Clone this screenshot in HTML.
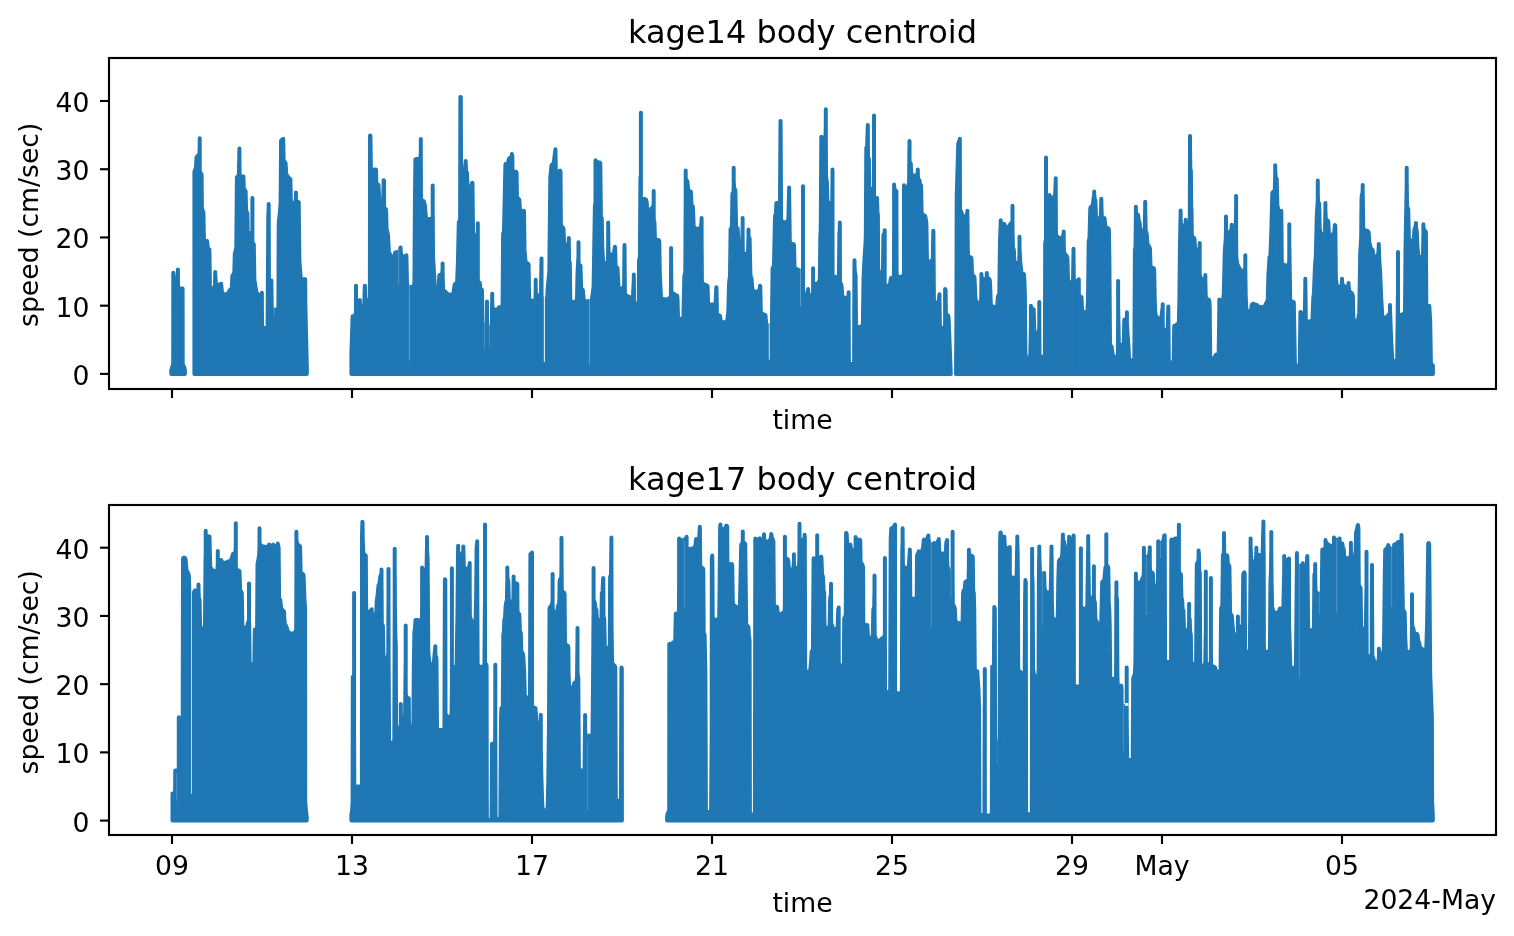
<!DOCTYPE html><html><head><meta charset="utf-8"><title>kage speed</title>
<style>html,body{margin:0;padding:0;background:#fff}svg{display:block;will-change:transform}text{font-family:"DejaVu Sans","Liberation Sans",sans-serif;fill:#000}</style></head><body>
<svg width="1514" height="936" viewBox="0 0 1514 936">
<rect width="1514" height="936" fill="#fff"/>
<g clip-path="none"><path d="M173.3,272.8V373.9 M177.9,269.5V373.9 M171.3,373.9 171.3,370.0 173.2,364.1 173.3,276.4 173.6,278.3 174.2,279.2 174.8,279.5 175.4,279.6 176.1,279.5 176.7,279.2 177.3,278.3 177.8,273.0 178.1,286.5 178.2,287.2 178.7,288.0 179.4,288.4 182.6,288.5 182.7,364.0 182.9,364.9 184.2,367.0 184.9,370.1 184.9,373.9Z M199.7,138.2V373.9 M215.2,271.9V373.9 M252.4,197.9V373.9 M261.9,292.7V373.9 M268.7,204.1V373.9 M295.9,192.6V373.9 M194.4,373.9 194.4,172.0 195.7,168.5 195.9,167.3 196.6,156.9 198.7,155.1 199.2,154.3 199.4,152.7 199.7,146.8 199.8,171.0 200.1,171.9 201.6,174.7 201.9,208.1 203.4,212.7 203.9,238.3 204.2,239.8 204.7,240.6 205.6,241.0 207.1,241.1 207.8,247.9 208.3,248.7 209.4,249.4 209.9,284.4 210.2,287.2 210.9,288.2 212.1,288.5 213.1,288.5 213.7,288.3 214.3,287.8 214.7,287.2 214.9,284.7 215.3,274.9 215.7,282.0 215.9,283.7 216.7,284.7 217.8,285.0 218.4,284.9 221.1,283.8 221.9,291.8 222.2,293.0 222.8,293.8 223.4,294.2 224.1,294.3 226.3,294.3 227.3,294.0 228.1,293.2 229.7,290.2 231.1,289.2 231.6,288.4 231.8,286.7 232.4,275.7 233.9,273.7 234.3,272.4 234.8,254.1 236.3,247.5 236.9,177.4 238.6,175.5 238.9,173.9 239.4,148.6 239.6,174.4 239.8,175.3 240.7,176.2 241.4,176.4 243.4,176.4 243.8,188.4 244.1,189.3 245.6,191.3 246.1,210.3 246.3,211.2 247.3,212.9 247.4,214.5 247.7,231.0 248.1,232.2 248.6,232.7 249.2,233.0 251.1,233.0 251.7,232.7 252.2,232.2 252.3,241.5 252.6,242.5 253.8,244.3 254.4,280.1 256.4,292.0 258.3,294.8 259.1,295.3 259.8,295.4 260.6,295.3 261.2,294.9 261.7,294.1 262.1,326.0 262.3,327.0 263.2,327.8 263.9,328.0 265.8,328.0 266.4,327.8 267.1,327.4 267.4,326.7 267.6,326.0 268.3,215.5 268.7,208.0 268.9,278.4 269.2,279.4 269.7,280.0 270.4,280.3 271.4,280.4 271.7,307.5 271.8,308.2 272.3,309.0 272.9,309.4 273.7,309.5 276.6,309.5 277.2,309.4 278.1,308.7 278.4,307.5 278.7,225.7 278.8,222.9 280.4,206.6 280.6,202.6 281.1,140.6 283.2,138.8 283.6,159.5 283.8,160.5 285.6,163.4 286.2,174.0 288.8,178.0 290.4,179.1 290.8,197.9 291.1,201.7 291.6,202.4 292.3,202.9 293.8,203.0 294.6,202.8 295.2,202.3 295.7,201.4 295.9,199.4 296.2,200.5 296.7,201.3 297.3,201.7 298.7,202.1 299.4,261.2 300.6,277.0 300.9,278.2 301.8,279.1 302.6,279.2 305.2,279.3 305.3,302.5 306.8,365.9 306.8,373.9Z M356.0,285.7V373.9 M420.8,138.9V373.9 M432.7,185.6V373.9 M442.6,263.5V373.9 M465.7,160.9V373.9 M477.8,223.3V373.9 M487.0,301.4V373.9 M492.2,293.8V373.9 M511.9,154.0V373.9 M535.7,279.7V373.9 M541.5,258.4V373.9 M568.8,238.1V373.9 M578.5,242.3V373.9 M595.5,160.2V373.9 M608.2,222.6V373.9 M633.8,274.6V373.9 M640.9,112.8V373.9 M653.7,190.9V373.9 M671.1,248.0V373.9 M685.7,170.6V373.9 M701.6,218.0V373.9 M733.7,167.8V373.9 M742.6,218.0V373.9 M748.5,229.6V373.9 M803.0,186.3V373.9 M808.1,289.0V373.9 M813.1,268.2V373.9 M825.8,109.3V373.9 M832.5,169.5V373.9 M839.8,222.6V373.9 M848.6,292.2V373.9 M854.5,260.3V373.9 M867.8,125.1V373.9 M874.0,115.6V373.9 M884.7,230.2V373.9 M894.1,184.5V373.9 M904.0,185.2V373.9 M909.5,141.0V373.9 M917.8,169.4V373.9 M939.5,294.3V373.9 M945.1,289.0V373.9 M351.4,373.9 351.4,352.2 352.6,316.2 353.9,316.2 354.8,315.7 355.4,314.6 355.9,313.0 356.0,312.3 356.1,300.1 356.9,300.8 357.9,301.1 358.9,300.8 359.8,300.1 360.1,305.1 360.4,306.1 360.9,306.6 361.6,307.0 362.5,307.1 363.3,306.7 363.9,306.1 364.3,303.7 364.8,285.7 365.0,285.7 365.3,296.3 365.5,298.8 365.9,299.4 366.5,299.9 367.1,300.0 368.3,300.0 368.9,299.8 369.4,299.4 369.8,298.8 369.9,298.1 370.0,135.6 370.3,135.5 370.4,135.6 370.9,168.5 371.3,169.7 372.3,170.4 373.0,170.5 373.6,170.4 374.8,169.4 375.9,169.5 376.1,170.1 376.3,182.5 376.4,183.2 376.8,183.8 378.5,184.9 379.3,198.8 380.0,199.7 381.1,200.1 382.3,199.7 383.0,198.8 383.3,194.5 383.6,180.3 383.9,180.3 384.0,180.5 384.1,206.8 384.4,207.8 384.8,208.3 386.0,209.3 386.1,210.0 386.6,229.0 387.9,234.4 389.0,252.5 391.3,256.6 392.4,257.1 393.5,256.9 394.3,256.4 394.6,255.7 395.1,252.5 398.1,252.0 399.9,250.7 400.1,250.2 400.5,247.4 400.9,254.0 401.0,254.7 401.4,255.3 402.3,256.0 404.3,256.6 405.3,256.3 406.3,255.3 406.4,255.3 407.0,284.3 407.1,285.0 407.6,285.7 410.1,287.2 410.9,287.3 411.6,287.1 413.8,285.6 414.1,285.0 414.3,284.3 414.4,282.0 414.9,204.4 415.4,159.4 416.3,159.0 419.1,158.9 419.8,158.6 420.3,158.0 420.6,156.1 420.8,150.8 421.0,198.7 421.1,199.4 421.8,200.2 423.8,201.2 423.9,201.4 424.9,205.6 425.9,217.1 426.3,218.3 426.9,218.9 427.6,219.1 430.6,219.1 431.5,218.9 432.1,218.3 432.5,217.7 432.8,214.5 433.0,253.9 433.1,258.2 434.1,274.2 434.8,289.2 435.5,290.2 436.6,290.5 437.8,290.2 438.5,289.2 439.3,275.5 439.4,275.1 441.4,274.3 442.0,273.6 442.4,271.6 442.5,268.6 442.6,269.2 442.9,284.0 443.1,289.5 443.6,290.3 448.5,294.8 449.1,294.9 449.8,294.9 452.4,294.1 453.0,293.7 453.5,293.0 454.6,284.6 454.8,284.3 456.6,283.2 457.0,282.6 457.1,281.9 457.9,263.2 458.8,222.3 459.9,220.4 460.1,219.5 460.4,97.1 460.8,97.1 461.0,168.5 461.4,169.6 462.4,170.4 463.0,170.5 463.6,170.4 464.6,169.6 465.0,168.5 465.6,161.9 466.1,171.0 466.4,171.9 467.0,172.8 467.4,183.3 467.6,186.4 468.1,187.2 468.9,187.6 469.8,187.7 470.6,187.4 471.4,186.4 472.0,183.3 472.1,183.0 472.5,182.9 473.0,232.2 473.3,234.0 473.6,234.7 474.3,235.1 475.0,235.3 476.3,235.3 477.0,235.0 477.5,234.5 477.9,280.7 478.0,281.4 478.4,282.0 479.8,283.0 480.4,288.4 480.9,289.2 482.0,289.9 482.5,322.6 482.8,323.5 483.5,324.3 484.3,324.5 485.5,324.5 486.3,324.2 486.8,323.7 487.1,325.6 487.4,326.0 488.0,326.6 488.8,326.9 490.0,326.9 490.6,326.7 491.3,326.2 491.6,325.6 491.9,319.9 492.1,302.0 492.3,301.5 492.4,305.7 492.6,308.2 493.1,309.0 493.8,309.4 494.4,309.5 496.6,309.5 497.5,309.3 498.4,308.6 498.9,307.2 500.8,307.2 501.5,307.0 502.3,306.2 502.5,305.2 502.6,302.9 503.1,233.6 503.8,232.0 504.0,230.9 505.4,164.5 505.6,164.1 507.0,163.9 507.8,163.3 508.1,162.4 509.0,158.6 511.1,157.2 512.1,155.1 512.3,155.3 512.5,169.8 512.6,170.5 513.0,171.1 513.5,171.5 514.3,171.7 516.1,171.8 516.6,172.6 516.9,196.3 517.0,197.0 517.4,197.7 519.3,199.6 519.9,209.0 520.1,210.0 520.6,210.6 521.5,211.0 522.9,211.1 523.8,210.8 524.0,211.0 524.5,249.4 525.4,260.4 525.6,261.8 526.3,262.7 528.1,263.7 528.6,264.8 529.1,298.0 529.3,298.7 529.6,299.4 530.1,299.8 532.9,301.1 533.5,301.2 534.1,301.0 534.8,300.6 535.1,300.2 535.4,299.2 535.8,288.3 535.9,293.4 536.0,294.1 536.4,294.8 537.4,295.4 539.1,295.4 540.1,295.0 540.8,294.1 541.0,292.3 541.4,263.2 541.6,296.9 541.8,297.6 542.1,298.2 542.8,298.7 543.4,298.9 545.8,298.8 546.5,298.4 547.0,297.6 547.3,296.3 547.5,290.7 549.3,271.0 550.3,177.7 551.5,165.2 553.3,163.6 553.8,162.9 555.4,149.2 555.8,169.7 555.9,170.4 556.5,171.3 557.4,171.7 558.5,171.6 560.0,170.6 560.5,171.4 560.9,225.3 561.3,226.4 561.9,227.0 562.9,227.4 563.5,228.9 564.0,241.6 564.3,243.3 564.6,243.9 565.3,244.4 565.9,244.6 566.9,244.6 568.0,244.0 568.4,243.5 568.8,242.6 569.1,261.1 569.3,261.8 569.8,262.7 570.3,298.3 570.5,301.0 571.1,301.9 571.9,302.3 572.8,302.3 575.9,301.0 576.8,300.2 577.0,299.2 577.5,273.3 578.4,257.5 578.8,264.1 579.3,264.9 580.4,265.6 580.5,266.3 581.1,287.2 581.5,288.7 581.9,289.2 582.8,289.8 582.9,290.1 583.6,298.6 583.9,299.9 584.5,300.8 585.4,301.2 589.8,301.2 590.4,301.1 591.0,300.8 591.8,299.7 593.6,287.0 594.9,205.7 596.0,201.0 596.5,161.2 597.9,162.4 599.8,162.5 600.3,163.2 600.9,216.1 601.0,216.8 601.6,217.7 601.8,219.4 602.3,248.3 603.0,259.5 603.1,261.1 603.4,262.0 603.9,262.6 604.5,263.0 606.4,263.0 607.0,262.8 607.5,262.4 607.9,261.8 608.0,261.1 608.3,230.7 608.4,246.3 608.6,252.6 609.3,253.4 611.3,254.8 612.4,254.9 613.4,254.4 613.9,253.6 614.0,253.0 614.9,246.8 615.1,247.5 615.6,265.7 616.0,266.9 617.4,267.9 617.5,268.2 618.5,287.2 619.1,288.1 620.0,288.5 621.6,288.5 622.5,288.1 623.9,286.4 624.1,285.4 624.5,245.1 624.9,293.5 625.0,294.2 625.8,295.1 627.8,296.4 630.3,297.6 631.0,297.7 631.6,297.5 632.3,297.2 632.8,296.6 633.0,295.6 633.9,278.0 634.1,301.5 634.3,302.2 635.0,303.2 636.1,303.5 637.0,303.5 637.6,303.3 638.3,302.8 638.6,302.2 638.8,301.5 639.0,260.7 639.9,256.6 640.4,179.5 640.6,176.2 640.9,197.5 641.0,198.2 641.5,198.9 642.4,199.4 643.3,199.4 644.6,198.9 645.8,199.3 646.5,201.2 646.6,201.9 647.1,208.2 647.5,209.0 648.1,209.6 649.3,209.8 650.3,209.5 652.1,208.1 653.5,205.5 653.6,205.9 653.8,219.5 654.4,221.9 654.9,237.6 655.1,238.6 655.6,239.4 656.5,239.9 658.3,240.0 658.9,240.4 659.3,241.6 659.8,274.0 661.0,297.2 661.4,298.1 662.1,298.7 665.8,299.6 669.0,298.6 669.5,298.2 670.8,296.5 670.9,295.8 671.1,258.1 671.4,291.2 671.6,292.1 672.1,292.7 673.9,294.0 677.1,295.7 677.5,298.8 678.0,316.7 678.1,317.4 678.5,318.0 679.1,318.5 679.9,318.8 681.6,318.8 682.4,318.5 683.1,317.8 683.4,316.8 684.3,277.9 684.4,275.2 685.0,273.6 685.1,272.9 685.3,270.3 685.8,177.8 686.0,179.7 686.4,180.3 687.3,181.1 687.4,181.4 688.1,188.9 688.4,190.1 689.1,191.1 689.8,191.3 690.6,191.4 690.9,191.9 691.5,204.5 691.8,205.5 692.8,206.5 692.9,207.3 693.6,224.2 693.9,227.1 694.3,227.7 694.9,228.2 697.3,228.8 698.1,228.8 700.1,228.0 700.6,227.4 700.9,226.7 701.5,221.0 701.9,281.9 702.0,282.6 702.8,283.6 707.3,285.8 707.5,286.1 707.6,286.5 708.1,302.7 708.5,303.8 709.5,304.6 710.3,304.7 714.3,304.2 715.1,303.7 715.6,302.9 716.3,287.3 716.5,287.6 716.9,313.1 717.1,314.1 717.6,314.7 720.0,315.8 720.6,320.6 721.3,321.7 722.4,322.2 725.6,322.2 726.4,321.9 727.0,321.2 727.4,319.7 728.3,311.5 729.1,283.1 730.0,275.6 730.6,229.1 731.6,227.5 731.9,226.5 732.4,194.6 732.5,193.6 733.3,192.7 733.5,191.8 733.8,182.6 734.1,187.9 735.3,189.8 735.4,191.6 736.1,226.5 736.5,227.6 737.6,228.6 738.4,239.3 739.1,240.3 740.3,240.6 741.4,240.3 742.1,239.3 742.4,236.8 742.5,224.3 742.8,251.8 743.0,252.8 743.8,253.6 744.5,253.8 746.1,253.8 746.9,253.6 747.5,253.1 748.0,252.2 748.1,251.5 748.5,235.5 748.8,236.6 749.6,238.3 750.4,275.0 751.5,278.7 752.4,289.5 753.0,290.4 754.8,291.6 755.4,291.9 756.4,291.9 758.5,291.1 759.1,290.6 759.5,290.0 760.0,285.7 760.3,286.5 760.8,311.2 761.0,312.7 761.4,313.3 761.9,313.7 765.4,315.1 765.5,315.4 766.0,322.4 766.3,324.2 766.5,324.7 767.1,325.2 767.9,325.5 770.0,325.5 770.9,325.2 771.6,324.5 771.9,323.5 772.6,268.4 773.9,265.3 774.0,264.6 775.0,216.2 775.6,214.7 775.9,213.3 776.4,203.0 778.3,202.9 779.0,202.7 779.8,201.9 780.0,201.0 780.5,120.9 780.6,120.9 781.1,219.5 781.3,220.2 781.8,220.9 783.6,222.3 784.5,222.6 785.3,222.5 785.9,222.3 787.6,221.0 788.1,220.2 788.4,218.0 789.1,187.6 789.8,241.5 790.0,242.4 790.5,243.0 792.1,244.0 793.6,244.3 794.0,245.1 794.5,266.1 794.8,267.6 795.0,268.1 795.8,268.7 797.5,269.3 798.8,270.5 799.4,270.9 800.6,271.1 801.6,270.6 802.6,269.0 802.9,268.1 803.0,261.0 803.1,293.2 803.3,293.9 803.6,294.5 804.3,295.0 805.0,295.2 806.1,294.9 806.9,294.2 807.9,290.4 808.5,294.1 809.0,294.8 809.9,295.3 811.0,295.4 811.9,295.2 812.5,294.8 812.9,294.1 813.0,293.4 813.3,282.6 813.8,283.3 814.6,283.8 816.5,283.9 817.3,283.7 817.8,283.3 818.3,282.7 819.5,280.6 819.8,279.6 820.3,237.9 820.6,232.3 820.8,222.6 821.3,136.8 821.5,136.8 822.5,137.9 823.5,138.1 824.6,137.8 825.4,136.8 825.6,132.4 825.8,124.6 826.0,175.9 826.9,182.4 827.4,201.0 827.5,201.7 827.9,202.3 828.5,202.8 829.1,202.9 831.0,202.8 831.6,202.4 832.1,201.7 832.3,201.0 832.4,185.9 832.6,274.9 832.8,275.6 833.3,276.4 833.9,276.8 834.6,276.9 837.0,276.9 837.8,276.7 838.6,275.9 838.9,274.9 839.4,233.3 839.8,228.6 840.0,281.9 840.3,282.8 841.4,284.7 842.3,295.0 842.6,296.7 843.1,297.3 843.9,297.7 846.6,297.7 847.8,297.4 848.5,296.4 848.9,361.9 849.3,363.0 850.1,363.7 852.1,363.9 853.0,363.7 853.9,362.8 854.1,361.9 854.4,270.9 854.5,264.6 854.9,272.8 855.0,273.5 855.6,275.1 856.0,324.9 856.4,326.0 857.3,326.7 857.9,326.9 860.8,326.8 861.5,326.6 862.1,326.0 862.9,323.7 863.5,280.0 864.4,260.6 865.6,241.8 865.8,235.8 866.3,148.0 866.9,146.5 867.1,145.2 867.8,126.8 868.0,157.1 868.3,158.0 868.9,158.9 869.1,187.1 869.3,187.8 869.6,188.4 870.1,188.8 870.9,189.1 872.0,189.1 872.6,188.9 873.3,188.4 873.6,187.8 873.8,187.1 873.9,169.6 874.0,196.3 874.3,197.3 875.0,198.1 876.0,198.3 877.0,198.1 877.5,212.8 877.9,214.7 878.1,266.4 878.4,271.0 878.8,271.6 879.4,272.1 880.0,272.3 881.3,272.3 881.9,272.1 882.5,271.6 882.9,271.0 883.0,270.3 883.4,234.9 884.4,233.2 884.6,284.2 884.8,284.9 885.5,285.8 886.1,286.1 886.8,286.2 887.6,285.9 889.5,284.6 890.1,283.6 890.9,278.1 892.1,278.1 892.8,277.9 893.4,277.4 893.8,276.8 893.9,276.1 894.3,187.0 894.6,189.3 894.9,189.9 895.5,190.6 896.4,191.0 896.6,271.1 896.8,274.9 897.0,275.9 897.9,276.7 898.6,276.9 900.8,276.9 901.5,276.8 902.0,276.5 903.4,275.3 903.9,274.6 904.0,273.9 904.1,265.3 904.4,186.6 904.9,187.4 905.8,187.8 906.6,187.9 907.5,187.5 908.1,186.6 909.1,182.7 909.4,149.0 909.6,161.7 909.9,162.7 910.8,163.7 911.1,171.5 911.4,173.9 911.9,174.7 912.6,175.1 915.4,175.7 916.4,175.5 917.0,175.0 917.4,174.4 917.8,170.9 917.9,176.6 918.1,178.6 918.5,179.3 919.4,180.0 920.1,184.3 921.1,185.6 921.6,212.5 922.0,213.7 923.4,215.1 925.0,215.9 925.6,217.8 926.4,223.5 926.9,256.5 927.1,260.6 927.5,261.2 928.0,261.6 928.6,261.8 929.4,261.8 930.0,261.6 931.9,260.4 932.6,259.5 932.8,258.8 933.3,230.8 933.4,231.2 933.9,299.3 934.0,300.0 934.9,302.1 935.4,302.9 936.0,303.3 936.6,303.4 937.4,303.4 938.0,303.0 938.5,302.4 938.8,301.5 939.4,294.9 939.9,325.8 940.0,326.5 940.5,327.3 941.1,327.7 941.8,327.8 943.3,327.8 943.9,327.6 944.5,327.1 944.9,326.5 945.0,325.8 945.5,290.0 945.6,290.3 945.9,313.0 946.0,313.7 946.5,314.5 947.0,314.9 948.0,315.3 948.6,317.8 950.8,373.9Z M959.8,138.7V373.9 M967.4,210.8V373.9 M981.4,273.9V373.9 M986.8,273.0V373.9 M1000.7,220.3V373.9 M1012.5,205.7V373.9 M1019.5,236.8V373.9 M1030.9,305.8V373.9 M1039.3,301.9V373.9 M1046.0,157.4V373.9 M1055.7,178.3V373.9 M1063.7,231.4V373.9 M1073.5,248.8V373.9 M1078.8,279.3V373.9 M1094.2,191.4V373.9 M1101.3,198.8V373.9 M1118.1,281.1V373.9 M1126.9,312.3V373.9 M1135.9,206.7V373.9 M1145.2,201.8V373.9 M1162.7,304.2V373.9 M1168.3,306.5V373.9 M1180.6,210.4V373.9 M1185.7,219.8V373.9 M1190.0,135.9V373.9 M1199.7,243.0V373.9 M1205.3,275.1V373.9 M1219.3,299.6V373.9 M1226.0,216.4V373.9 M1231.7,224.7V373.9 M1236.1,196.0V373.9 M1245.3,255.2V373.9 M1275.2,165.3V373.9 M1289.3,224.2V373.9 M1305.3,278.8V373.9 M1317.8,180.5V373.9 M1325.4,203.0V373.9 M1342.0,278.8V373.9 M1348.5,283.0V373.9 M1362.7,184.9V373.9 M1378.8,243.9V373.9 M1390.0,305.1V373.9 M1398.0,252.0V373.9 M1406.7,167.8V373.9 M1415.9,223.1V373.9 M1423.4,224.2V373.9 M956.0,373.9 956.4,320.6 956.7,196.7 958.2,145.3 958.3,143.4 959.7,139.6 959.8,141.4 960.0,209.1 960.2,209.8 961.3,212.1 962.2,215.4 962.5,216.0 963.3,216.5 964.4,216.7 965.5,216.2 966.8,214.5 967.3,212.7 967.4,213.6 967.9,255.3 968.2,256.3 968.8,256.9 969.5,257.3 970.8,257.3 971.0,257.5 971.5,259.0 972.0,273.8 972.4,275.0 974.0,276.3 974.5,277.6 975.4,297.3 975.7,300.0 976.5,301.9 977.0,302.4 977.7,302.7 978.3,302.8 979.7,302.7 980.3,302.4 980.8,301.8 981.0,300.8 981.2,297.8 981.5,276.3 981.9,277.9 982.4,278.7 983.3,279.2 984.7,279.2 985.7,278.9 986.3,278.4 986.5,277.9 986.8,276.0 987.3,277.4 989.5,279.5 990.0,281.9 990.7,301.1 990.9,304.6 992.3,306.4 993.4,307.0 994.2,306.9 996.0,306.4 996.7,306.0 997.0,305.5 997.3,304.5 997.9,296.7 998.0,296.2 999.2,294.3 999.3,293.6 1000.0,240.3 1000.8,221.1 1001.0,222.8 1001.5,223.6 1002.2,224.0 1002.8,224.2 1004.2,223.9 1004.9,225.5 1005.3,226.0 1006.5,227.0 1007.5,227.2 1008.4,227.0 1009.0,226.6 1010.2,224.1 1011.4,223.0 1012.4,221.3 1012.9,245.8 1013.2,248.1 1013.8,249.7 1013.9,250.6 1014.3,260.0 1014.5,261.8 1015.3,262.7 1016.4,263.1 1017.4,263.1 1018.0,262.9 1018.7,262.4 1019.0,261.8 1019.3,259.6 1019.5,248.4 1020.3,262.5 1021.3,271.5 1021.4,272.2 1021.8,272.8 1022.4,273.3 1023.4,273.6 1024.0,274.4 1024.5,283.1 1024.9,296.2 1025.4,353.6 1025.7,356.1 1026.0,356.7 1026.7,357.2 1027.5,357.4 1028.5,357.4 1029.2,357.2 1030.0,356.4 1030.3,355.4 1031.3,307.3 1031.7,308.2 1032.2,308.8 1032.8,309.1 1033.7,309.3 1034.2,328.1 1034.3,330.4 1034.5,331.4 1034.9,331.9 1035.5,332.3 1037.2,332.4 1038.3,332.0 1038.9,331.1 1039.2,328.8 1039.3,321.0 1039.5,354.7 1039.7,355.4 1040.2,356.1 1040.8,356.6 1041.4,356.7 1043.2,356.7 1043.8,356.5 1044.4,356.0 1044.8,355.4 1044.9,354.7 1045.2,242.7 1046.0,239.2 1046.3,195.3 1047.0,195.9 1047.9,196.0 1048.8,195.7 1049.5,195.0 1050.3,197.0 1050.9,197.5 1051.7,197.8 1052.9,197.6 1054.2,196.9 1054.7,196.4 1055.0,195.2 1055.2,193.3 1055.7,180.8 1055.9,227.4 1056.0,234.6 1056.2,235.3 1056.7,236.0 1058.4,237.4 1060.8,238.1 1061.7,238.0 1062.5,237.6 1063.0,236.8 1063.5,233.5 1064.0,251.8 1064.2,252.5 1065.3,254.7 1065.8,255.3 1066.8,255.9 1067.4,258.5 1068.0,279.6 1068.2,280.3 1068.7,281.1 1070.0,282.4 1070.7,282.6 1071.3,282.6 1071.9,282.4 1072.5,282.0 1072.9,281.3 1073.0,280.6 1073.5,252.9 1073.8,279.5 1073.9,280.2 1074.7,281.2 1075.8,281.5 1076.8,281.3 1077.9,280.2 1078.0,280.3 1078.4,283.2 1078.8,293.5 1079.0,295.3 1079.7,296.2 1081.2,296.9 1081.5,297.5 1082.0,308.9 1082.3,310.4 1082.8,311.2 1084.7,312.6 1085.4,312.7 1086.2,312.6 1086.8,312.2 1087.3,311.4 1087.5,309.2 1088.0,300.0 1088.7,241.4 1089.5,237.7 1090.3,208.2 1091.0,206.8 1092.2,205.8 1092.7,205.0 1094.2,194.2 1094.7,199.2 1095.4,200.4 1095.9,215.2 1096.2,216.8 1096.7,217.5 1098.0,218.5 1099.0,218.6 1099.9,218.3 1100.5,217.6 1100.8,216.6 1101.3,200.4 1101.7,214.1 1101.9,216.7 1102.3,217.3 1102.8,217.7 1104.5,218.1 1105.3,225.7 1105.7,226.5 1106.9,227.8 1107.5,228.2 1108.4,228.5 1108.8,229.1 1108.9,230.3 1109.4,261.0 1110.0,344.3 1110.4,345.5 1111.5,346.5 1112.5,353.3 1113.4,356.5 1113.9,357.3 1114.8,357.7 1115.9,357.7 1116.9,357.0 1117.2,356.5 1117.9,353.7 1118.2,309.1 1118.8,341.4 1119.0,343.8 1119.8,344.8 1120.9,345.1 1121.9,345.1 1122.5,344.9 1123.2,344.5 1123.5,343.8 1123.8,341.0 1124.3,319.7 1125.3,319.6 1126.0,319.2 1126.5,318.4 1126.8,317.4 1126.9,323.5 1127.7,335.7 1128.5,346.8 1129.0,358.2 1129.2,358.9 1129.5,359.5 1130.2,360.0 1130.8,360.1 1132.4,360.2 1133.0,360.0 1133.7,359.6 1134.2,358.9 1134.3,358.2 1134.4,350.7 1134.9,249.6 1135.5,247.1 1135.9,214.3 1136.0,213.1 1136.8,214.1 1137.8,214.5 1138.3,216.5 1138.8,220.9 1139.0,221.7 1139.7,222.5 1140.0,227.9 1140.4,229.7 1141.0,230.4 1141.8,230.7 1143.0,230.7 1143.9,230.3 1144.5,229.5 1144.8,228.5 1145.2,206.9 1145.7,231.0 1145.9,232.0 1146.5,232.8 1146.7,233.7 1147.4,243.3 1148.4,245.8 1149.5,247.1 1150.0,249.7 1150.5,265.7 1150.8,266.7 1151.3,267.3 1153.8,268.4 1154.2,270.2 1154.7,298.3 1155.3,312.8 1155.5,315.0 1157.8,318.2 1158.3,318.6 1158.9,318.9 1159.5,319.0 1160.2,318.8 1160.8,318.4 1161.3,317.7 1161.4,317.0 1162.5,308.3 1162.8,328.1 1162.9,328.8 1163.4,329.6 1164.2,330.0 1165.8,330.1 1166.5,329.9 1167.4,329.1 1167.7,328.1 1168.3,308.6 1168.8,360.5 1169.2,361.6 1169.7,362.1 1170.3,362.4 1172.2,362.4 1172.8,362.1 1173.3,361.6 1173.7,360.5 1174.2,325.8 1175.2,325.9 1176.0,325.6 1177.0,324.3 1177.8,324.1 1178.4,323.7 1178.8,323.0 1178.9,322.3 1179.4,297.8 1179.9,249.4 1180.5,217.5 1180.9,223.7 1181.8,225.2 1182.5,225.9 1183.2,226.1 1183.8,226.0 1184.4,225.8 1184.9,225.4 1185.3,224.8 1185.8,221.9 1186.0,222.6 1186.5,223.2 1187.2,223.6 1187.9,223.7 1188.7,223.5 1189.3,223.0 1189.7,222.4 1189.8,221.7 1190.0,143.4 1190.3,168.7 1190.4,169.4 1190.8,170.1 1190.9,172.0 1191.2,208.0 1191.5,209.3 1191.9,235.7 1192.0,236.4 1192.4,237.0 1192.9,237.4 1193.7,237.7 1194.4,238.7 1195.0,246.9 1195.4,248.3 1196.3,249.7 1197.3,250.2 1197.9,250.2 1198.5,250.0 1199.4,249.2 1199.7,272.1 1199.9,275.8 1201.0,278.0 1201.8,279.0 1202.4,279.5 1203.2,279.7 1203.9,279.6 1204.7,279.1 1205.2,278.4 1205.3,278.6 1205.7,295.5 1205.9,297.7 1206.7,298.6 1207.9,299.4 1208.8,299.7 1209.4,300.9 1209.7,307.2 1210.2,357.1 1210.3,357.8 1210.8,358.6 1211.4,359.0 1212.0,359.1 1212.8,359.0 1213.4,358.7 1214.5,357.2 1216.0,354.7 1217.2,354.6 1217.9,354.2 1218.4,353.6 1218.7,352.6 1219.4,300.3 1220.2,300.9 1221.0,301.1 1221.9,300.9 1222.7,300.3 1223.2,298.7 1223.8,293.5 1224.7,254.4 1224.8,251.0 1225.7,239.7 1226.0,228.7 1226.8,231.5 1227.2,232.1 1228.2,232.7 1229.3,232.8 1230.2,232.3 1230.7,231.5 1231.3,229.4 1231.9,225.9 1232.5,226.7 1233.5,227.1 1234.5,227.0 1235.4,226.3 1235.8,225.2 1236.0,213.7 1236.3,257.0 1237.3,264.1 1238.7,266.9 1240.0,269.1 1241.0,270.4 1241.7,270.9 1242.3,271.1 1243.0,271.0 1243.7,270.8 1244.3,270.2 1245.0,269.0 1245.3,268.0 1245.7,295.8 1246.3,309.2 1247.5,310.9 1248.2,311.4 1249.3,311.6 1250.3,311.1 1250.9,310.3 1251.9,304.7 1252.5,304.0 1253.2,303.8 1254.3,304.1 1255.8,305.0 1257.0,305.1 1257.8,306.3 1258.7,306.9 1259.4,307.0 1260.7,306.7 1262.0,307.4 1263.3,307.2 1263.9,306.8 1265.4,305.1 1266.5,302.6 1267.5,301.1 1267.8,297.9 1268.4,275.0 1269.4,259.0 1269.5,257.2 1270.3,256.1 1270.5,254.0 1271.4,228.9 1272.3,193.9 1272.4,192.6 1274.4,190.7 1274.8,189.5 1275.3,171.1 1275.7,177.4 1276.7,178.7 1277.4,205.8 1278.4,209.8 1278.7,210.2 1279.2,210.7 1279.8,211.0 1280.4,211.1 1281.3,210.9 1281.7,252.2 1281.8,262.3 1281.9,263.0 1282.4,263.7 1284.0,265.0 1285.9,265.7 1286.7,265.8 1287.3,265.7 1287.9,265.3 1288.3,264.8 1289.0,263.1 1289.2,262.4 1289.4,248.0 1290.2,299.3 1290.4,300.2 1290.9,300.8 1292.2,301.7 1293.5,301.9 1293.8,302.2 1294.9,363.0 1295.2,364.6 1295.4,365.1 1295.9,365.6 1296.5,365.9 1298.3,365.9 1298.9,365.6 1299.4,365.1 1299.8,363.9 1300.4,312.2 1300.5,312.0 1300.7,312.1 1301.3,313.1 1301.8,313.5 1302.8,313.9 1303.4,313.8 1304.0,313.5 1304.8,312.6 1304.9,311.9 1305.3,286.7 1305.4,286.1 1305.8,318.3 1306.0,319.7 1307.4,321.5 1308.2,321.9 1309.0,322.0 1309.8,321.7 1311.9,320.3 1312.4,319.6 1312.5,318.9 1313.3,297.9 1313.9,293.7 1315.0,265.3 1315.8,256.6 1316.8,215.0 1317.7,200.6 1317.8,194.9 1317.9,195.3 1318.0,200.6 1318.3,201.9 1319.2,203.7 1319.7,228.6 1320.8,234.0 1321.3,234.6 1322.0,235.0 1322.8,235.1 1323.5,234.8 1324.2,234.3 1324.5,233.7 1324.9,231.8 1325.0,231.1 1325.4,209.8 1325.8,218.6 1326.0,219.3 1326.4,219.8 1327.8,220.7 1328.2,221.2 1328.3,221.9 1328.9,233.3 1329.2,234.3 1330.0,235.1 1330.7,235.3 1331.3,235.3 1332.2,234.9 1333.9,233.3 1334.3,232.2 1334.9,225.0 1335.3,225.5 1335.9,279.9 1336.9,285.3 1337.5,286.2 1338.4,286.6 1339.2,286.6 1340.8,286.1 1341.4,285.7 1341.9,285.1 1342.3,283.3 1343.0,285.2 1343.4,285.6 1345.2,287.1 1346.3,287.3 1347.2,287.1 1347.8,286.5 1348.5,284.4 1349.2,290.7 1349.5,291.3 1351.0,292.6 1352.2,293.9 1352.9,295.9 1353.4,318.7 1353.5,319.4 1354.3,320.4 1355.4,320.9 1356.5,320.8 1357.2,320.7 1357.8,320.2 1358.2,319.6 1359.2,312.7 1359.3,310.5 1360.2,253.6 1361.0,241.2 1361.2,235.7 1361.5,200.1 1361.7,196.2 1362.4,193.2 1362.7,189.9 1363.2,227.6 1363.3,228.3 1363.8,229.0 1365.4,230.4 1367.5,231.0 1368.2,231.4 1368.7,232.6 1369.3,242.2 1370.7,247.9 1371.2,248.7 1372.5,249.6 1373.4,255.2 1373.8,255.9 1374.7,256.4 1375.8,256.5 1377.3,255.8 1377.9,255.1 1378.3,253.2 1378.8,245.7 1379.3,260.3 1380.2,273.9 1381.2,298.2 1382.2,314.8 1382.4,315.8 1383.3,317.1 1383.9,317.7 1385.0,318.0 1386.2,317.7 1387.9,315.6 1389.2,314.5 1389.7,313.7 1390.0,309.3 1391.3,343.3 1392.3,359.3 1392.4,360.0 1392.8,360.6 1393.3,361.1 1393.9,361.3 1395.8,361.2 1396.4,360.9 1396.9,360.3 1397.2,359.3 1397.9,294.0 1398.0,313.1 1398.2,313.8 1398.5,314.4 1399.2,314.9 1399.8,315.1 1400.5,315.0 1404.2,313.6 1404.8,312.9 1405.0,311.9 1405.5,250.0 1406.7,183.2 1406.8,184.0 1407.0,204.6 1407.3,206.6 1408.2,209.2 1408.9,238.0 1409.0,238.7 1410.3,240.4 1411.3,241.0 1412.0,241.0 1412.7,240.9 1413.3,240.4 1413.7,239.8 1414.5,229.1 1415.5,227.1 1415.9,223.7 1416.2,229.0 1416.8,231.7 1417.4,246.3 1418.2,254.6 1418.5,255.8 1419.9,256.9 1420.8,257.3 1421.8,257.1 1422.7,256.4 1423.0,255.3 1423.5,227.3 1423.8,229.1 1424.0,229.8 1425.4,231.1 1425.9,232.3 1426.3,303.8 1426.5,304.8 1427.2,305.5 1427.9,305.8 1429.3,306.0 1430.2,321.1 1430.9,363.0 1431.3,364.2 1432.8,365.4 1432.9,366.3 1432.9,373.9Z" fill="#1f77b4" stroke="#1f77b4" stroke-width="4.0" stroke-linejoin="round" stroke-linecap="round"/>
<line x1="544.33" y1="296.9" x2="544.33" y2="361.9" stroke="#fff" stroke-opacity="1.0" stroke-width="1.0"/>
<line x1="589.41" y1="299.4" x2="589.41" y2="365.1" stroke="#fff" stroke-opacity="0.5" stroke-width="0.6"/>
<line x1="769.26" y1="323.5" x2="769.26" y2="359.6" stroke="#fff" stroke-opacity="0.9" stroke-width="0.9"/>
<line x1="636.33" y1="274.9" x2="636.33" y2="301.5" stroke="#fff" stroke-opacity="0.4" stroke-width="0.6"/>
<line x1="800.47" y1="255.5" x2="800.47" y2="306.4" stroke="#fff" stroke-opacity="0.5" stroke-width="0.6"/>
<line x1="740.83" y1="219.5" x2="740.83" y2="240.3" stroke="#fff" stroke-opacity="0.4" stroke-width="0.5"/>
<line x1="745.45" y1="228.7" x2="745.45" y2="251.8" stroke="#fff" stroke-opacity="0.4" stroke-width="0.5"/>
<line x1="398.51" y1="249.5" x2="398.51" y2="284.2" stroke="#fff" stroke-opacity="0.45" stroke-width="0.5"/>
<line x1="409.38" y1="284.2" x2="409.38" y2="360.5" stroke="#fff" stroke-opacity="0.5" stroke-width="0.6"/>
<line x1="381.18" y1="182.5" x2="381.18" y2="198.7" stroke="#fff" stroke-opacity="0.4" stroke-width="0.5"/>
<line x1="484.51" y1="322.6" x2="484.51" y2="348.9" stroke="#fff" stroke-opacity="0.4" stroke-width="0.5"/>
<line x1="489.37" y1="324.9" x2="489.37" y2="346.6" stroke="#fff" stroke-opacity="0.4" stroke-width="0.5"/>
<line x1="274.14" y1="307.5" x2="274.14" y2="315.4" stroke="#fff" stroke-opacity="0.5" stroke-width="0.5"/>
</g>
<rect x="109" y="58" width="1387" height="331" fill="none" stroke="#000" stroke-width="2.133"/>
<line x1="109" y1="373.90" x2="100.00" y2="373.90" stroke="#000" stroke-width="2.133"/>
<text x="89.4" y="384.90" font-size="26.667" text-anchor="end" >0</text>
<line x1="109" y1="305.67" x2="100.00" y2="305.67" stroke="#000" stroke-width="2.133"/>
<text x="89.4" y="316.67" font-size="26.667" text-anchor="end" >10</text>
<line x1="109" y1="237.45" x2="100.00" y2="237.45" stroke="#000" stroke-width="2.133"/>
<text x="89.4" y="248.45" font-size="26.667" text-anchor="end" >20</text>
<line x1="109" y1="169.22" x2="100.00" y2="169.22" stroke="#000" stroke-width="2.133"/>
<text x="89.4" y="180.22" font-size="26.667" text-anchor="end" >30</text>
<line x1="109" y1="101.00" x2="100.00" y2="101.00" stroke="#000" stroke-width="2.133"/>
<text x="89.4" y="112.00" font-size="26.667" text-anchor="end" >40</text>
<line x1="172" y1="389" x2="172" y2="398.00" stroke="#000" stroke-width="2.133"/>
<line x1="352" y1="389" x2="352" y2="398.00" stroke="#000" stroke-width="2.133"/>
<line x1="532" y1="389" x2="532" y2="398.00" stroke="#000" stroke-width="2.133"/>
<line x1="712" y1="389" x2="712" y2="398.00" stroke="#000" stroke-width="2.133"/>
<line x1="892" y1="389" x2="892" y2="398.00" stroke="#000" stroke-width="2.133"/>
<line x1="1072" y1="389" x2="1072" y2="398.00" stroke="#000" stroke-width="2.133"/>
<line x1="1162" y1="389" x2="1162" y2="398.00" stroke="#000" stroke-width="2.133"/>
<line x1="1342" y1="389" x2="1342" y2="398.00" stroke="#000" stroke-width="2.133"/>
<text x="802.5" y="42.8" font-size="32" text-anchor="middle" >kage14 body centroid</text>
<text x="802.5" y="428.5" font-size="26.667" text-anchor="middle" >time</text>
<text transform="translate(38.2,224.8) rotate(-90)" font-size="26.667" text-anchor="middle">speed (cm/sec)</text>
<g clip-path="none"><path d="M178.8,717.2V820.6 M198.5,584.5V820.6 M205.7,530.7V820.6 M217.8,551.0V820.6 M235.8,523.2V820.6 M249.0,583.4V820.6 M259.5,528.3V820.6 M277.8,543.4V820.6 M296.4,531.8V820.6 M172.5,820.6 172.5,793.5 173.6,793.4 174.3,793.1 174.8,792.5 175.1,791.5 175.3,770.4 177.3,770.4 178.1,770.2 179.0,769.3 179.2,768.4 179.3,718.0 180.3,718.5 181.5,718.4 182.3,717.7 182.7,716.5 183.0,564.5 183.1,558.5 183.5,557.8 184.0,557.6 184.7,557.8 185.5,558.9 186.5,570.1 186.7,570.9 188.0,572.6 188.7,574.8 190.0,590.4 190.3,592.7 190.8,593.3 191.6,593.6 192.3,593.7 193.1,593.4 193.8,592.7 194.8,590.5 196.5,590.7 197.1,590.5 197.7,590.1 198.1,589.4 198.5,587.8 198.8,597.2 199.5,599.8 199.6,602.2 200.1,626.4 200.5,627.6 201.5,628.3 203.2,628.4 204.2,627.9 204.7,627.1 204.8,626.4 205.0,622.6 205.5,561.8 206.1,535.3 207.0,535.9 208.7,536.4 209.5,536.4 210.2,566.4 210.6,567.5 212.7,570.6 213.5,571.1 214.3,571.3 215.1,571.1 216.8,570.2 217.5,569.4 218.0,558.9 218.5,559.7 219.2,560.1 220.0,560.2 221.0,560.0 221.8,561.6 222.3,562.1 223.0,562.5 224.7,563.0 225.6,562.9 227.1,562.0 229.0,561.4 231.0,560.1 231.5,559.2 233.1,553.7 234.0,553.7 234.6,553.5 235.1,553.1 235.5,552.4 235.7,547.5 235.8,566.8 236.1,568.3 236.3,568.8 237.7,570.2 239.2,570.9 239.5,571.3 240.1,589.6 240.3,590.5 241.2,591.7 241.8,593.3 242.3,625.3 242.6,626.3 243.2,626.9 244.7,627.7 245.3,627.7 246.0,627.6 246.6,627.2 247.1,626.4 248.0,622.5 249.0,621.6 249.2,622.6 249.6,662.3 249.7,663.0 250.1,663.6 250.7,664.1 251.3,664.2 252.6,664.2 253.5,663.9 254.1,663.2 254.3,662.3 254.8,630.9 255.0,629.5 256.6,628.5 257.0,627.9 257.1,627.2 257.5,564.0 258.3,560.5 259.2,554.0 259.6,541.2 259.7,543.3 260.0,544.2 261.3,545.7 262.2,546.3 264.7,546.8 267.0,547.0 267.6,546.9 268.2,546.4 269.1,544.5 270.0,545.5 271.1,545.8 272.3,545.4 273.1,544.6 274.6,546.0 275.6,546.3 276.7,546.1 277.7,545.0 278.1,546.3 278.6,547.2 279.1,597.6 279.2,598.3 280.2,599.9 280.3,600.4 281.3,608.7 281.7,609.3 283.1,610.5 284.0,611.7 284.6,622.4 284.8,623.8 286.0,625.7 288.2,632.2 289.1,632.9 291.2,633.7 293.7,633.3 294.6,632.8 296.0,630.9 296.2,630.0 296.5,539.7 296.6,541.3 297.0,543.1 298.5,545.4 299.8,546.1 300.1,546.9 300.6,571.7 300.7,572.4 301.1,573.0 303.3,574.5 303.5,575.2 304.7,604.0 305.1,608.0 305.2,801.2 306.1,812.1 306.7,816.5 306.7,820.6Z M354.1,593.1V820.6 M371.7,609.3V820.6 M381.5,569.5V820.6 M388.5,569.0V820.6 M394.7,548.7V820.6 M400.8,704.0V820.6 M405.7,625.4V820.6 M422.1,567.6V820.6 M427.0,537.1V820.6 M435.3,646.2V820.6 M451.9,568.3V820.6 M458.1,545.7V820.6 M463.3,546.4V820.6 M469.7,563.0V820.6 M477.2,541.3V820.6 M485.0,524.4V820.6 M495.3,664.7V820.6 M507.3,567.6V820.6 M513.6,576.4V820.6 M532.0,552.6V820.6 M540.8,714.7V820.6 M552.6,574.1V820.6 M561.5,537.8V820.6 M577.5,628.0V820.6 M585.1,715.1V820.6 M593.6,567.9V820.6 M603.2,578.0V820.6 M611.4,537.6V820.6 M351.4,820.6 351.4,814.3 352.1,810.5 352.6,801.2 352.8,676.7 353.4,676.4 353.9,675.9 354.3,784.6 354.4,785.3 354.9,786.0 355.5,786.4 356.3,786.6 360.5,786.5 361.5,785.7 361.9,784.6 362.0,536.8 362.4,521.8 362.5,522.1 362.8,540.0 363.3,552.5 363.4,553.2 363.8,553.8 365.1,555.2 365.8,555.5 366.1,600.4 366.3,610.2 366.4,610.9 366.8,611.5 367.3,611.9 367.9,612.2 368.6,612.2 369.5,611.8 371.4,610.0 372.3,614.0 372.9,614.8 373.8,615.2 374.6,615.2 375.5,614.7 376.0,614.0 376.3,612.8 376.8,600.6 377.6,595.0 378.5,585.4 379.1,584.3 379.4,583.5 380.3,576.6 380.4,576.1 381.1,574.7 381.4,573.3 381.5,576.1 381.8,623.1 381.9,623.8 382.8,625.5 382.9,626.8 383.4,655.4 383.6,656.3 384.3,657.0 385.6,657.7 386.8,657.6 387.8,656.9 388.1,655.7 388.3,651.4 388.4,604.2 388.5,608.8 388.6,657.8 389.1,740.9 389.3,741.6 389.6,742.2 390.1,742.6 390.8,742.8 392.4,742.8 393.3,742.5 393.9,741.8 394.3,740.4 394.8,575.1 394.9,604.7 395.4,637.6 395.8,645.1 396.0,716.1 396.1,725.8 396.3,726.5 396.9,727.4 397.9,727.8 399.5,727.7 400.5,727.0 400.9,725.8 401.1,716.9 402.3,717.4 403.8,717.3 404.6,716.6 405.0,715.4 405.1,714.3 405.6,664.6 405.8,694.7 405.9,695.4 406.9,697.4 407.8,698.1 408.8,698.2 409.0,724.5 409.1,725.1 409.6,725.9 410.3,726.3 411.0,726.5 411.9,726.4 412.6,726.0 413.1,725.4 413.4,724.5 413.8,668.9 414.4,632.1 415.0,628.0 415.5,619.9 417.0,619.9 418.6,620.7 419.8,620.6 420.8,619.9 421.8,618.1 421.9,617.4 422.0,616.1 422.5,569.0 423.4,569.7 424.5,569.8 425.5,569.4 426.4,568.3 426.6,566.7 426.9,549.2 427.6,557.5 428.3,651.6 429.1,660.1 429.9,664.0 430.4,664.7 431.0,665.1 431.8,665.3 432.5,665.1 433.4,664.4 433.8,663.3 435.1,648.8 435.6,655.5 435.8,656.2 436.4,657.8 436.5,660.1 437.0,727.9 437.4,729.1 438.4,729.8 442.4,729.9 443.1,729.8 444.0,729.1 444.4,727.9 444.9,579.5 445.0,579.3 445.3,579.8 445.5,713.1 445.6,713.8 446.4,715.8 446.9,716.4 447.4,716.7 448.1,716.9 448.9,716.8 450.5,716.1 451.0,715.6 451.4,715.0 451.5,714.3 451.6,710.4 452.1,665.8 453.4,667.2 454.0,667.6 454.6,667.7 455.4,667.5 456.0,667.1 456.5,666.4 456.6,665.7 457.5,610.5 458.0,552.3 458.1,551.3 458.4,553.1 458.8,553.7 459.6,554.3 460.8,554.3 461.6,553.9 462.9,552.3 463.4,549.8 463.8,565.8 464.0,567.1 464.4,567.7 464.9,568.1 466.6,568.9 467.4,569.0 468.1,568.7 468.6,568.3 469.0,567.7 469.5,564.9 469.9,616.3 470.0,617.0 472.0,621.7 472.5,622.2 473.1,622.5 473.9,622.6 474.5,622.4 475.4,621.5 475.6,620.6 476.1,599.7 476.6,548.1 477.1,542.3 477.6,662.3 477.8,664.6 478.0,665.6 478.5,666.2 479.1,666.5 481.0,667.0 481.8,666.9 483.5,666.2 484.1,665.6 484.4,664.6 484.9,603.6 485.1,662.4 485.4,663.4 486.1,664.3 486.6,665.9 486.8,803.6 486.9,818.1 487.0,818.8 487.4,819.4 488.0,819.9 488.8,820.1 490.0,820.0 490.8,819.7 491.4,819.0 491.6,818.1 492.0,743.8 493.4,743.8 494.3,743.4 494.9,742.8 495.1,741.8 495.3,709.4 495.6,816.9 495.8,817.6 496.3,818.4 496.9,818.8 497.6,818.9 498.8,818.9 499.5,818.6 500.1,817.9 500.4,816.9 501.0,718.2 501.4,708.3 502.4,707.4 502.8,706.2 503.3,634.6 503.9,631.4 504.3,619.7 504.9,618.1 505.1,616.5 505.6,606.3 506.1,603.0 506.9,600.1 507.4,574.7 507.6,579.1 507.8,579.8 508.3,580.7 508.8,599.8 508.9,600.5 509.4,601.3 510.4,601.8 511.4,601.7 512.6,601.0 513.3,600.1 513.4,599.4 513.6,579.9 514.0,582.0 514.4,582.7 515.3,583.3 516.8,583.4 517.3,584.4 517.5,610.6 517.8,612.2 518.1,612.8 518.9,613.6 519.4,615.5 519.9,631.1 520.1,632.1 520.8,632.9 521.3,650.7 521.5,651.7 522.5,652.8 523.3,656.4 524.1,670.1 524.8,694.9 525.1,696.4 526.1,697.4 526.9,697.6 528.3,697.5 529.4,697.0 529.9,696.3 530.0,695.6 530.4,554.2 531.4,553.5 531.5,553.6 531.9,704.0 532.6,706.8 533.0,707.4 534.1,708.1 534.8,708.1 535.4,708.0 535.5,708.4 536.4,720.8 537.6,722.5 538.3,723.0 539.4,723.2 540.4,722.7 541.3,774.4 542.3,806.5 543.0,809.3 543.4,809.9 544.4,810.6 545.0,810.7 545.6,810.6 546.4,810.2 547.3,809.1 547.6,807.9 548.3,781.0 549.0,721.5 549.5,609.2 550.1,606.9 551.3,605.8 551.8,604.9 552.4,602.5 552.5,600.3 552.8,609.2 553.1,610.4 554.5,611.9 555.3,612.1 556.0,612.1 556.8,611.7 557.3,611.1 557.6,609.8 558.1,605.6 558.3,605.2 559.0,604.1 559.3,600.3 559.6,581.5 559.8,580.3 560.4,578.8 561.1,577.5 561.3,576.8 561.5,553.9 561.8,589.6 562.1,590.7 563.3,592.1 564.1,592.6 564.6,594.2 565.0,642.7 565.3,643.7 566.3,645.0 566.9,645.5 567.9,645.9 568.3,647.2 568.4,648.3 568.6,674.5 569.1,685.4 569.5,686.6 570.6,687.5 571.6,687.8 572.6,687.6 573.3,687.2 573.6,686.5 574.4,682.8 575.1,682.7 575.8,682.5 576.3,682.1 576.6,681.5 577.1,675.3 577.4,642.9 577.6,673.9 578.3,678.1 578.9,768.4 579.1,769.3 580.0,770.2 580.8,770.4 583.0,770.3 583.8,769.9 584.3,769.3 584.6,767.6 585.0,724.7 585.1,724.5 585.3,733.7 585.4,734.4 585.9,735.2 586.5,735.6 587.1,735.7 590.5,735.7 591.3,735.5 591.9,735.0 592.3,734.4 592.5,732.0 593.0,687.7 593.5,616.1 593.8,600.6 594.5,601.7 594.6,602.1 595.4,607.6 596.4,609.8 596.8,617.3 597.0,619.0 597.8,620.0 598.9,620.3 599.8,620.3 600.4,620.1 600.9,619.7 601.3,619.0 601.5,617.7 601.8,593.2 602.5,591.4 602.6,590.7 603.1,578.9 603.3,579.3 603.5,615.3 603.8,617.1 604.1,618.4 604.3,621.4 604.8,646.0 604.9,646.7 605.4,647.5 606.1,647.9 606.9,648.0 609.0,647.2 609.5,646.6 609.8,645.6 610.1,576.9 610.8,575.4 611.0,572.2 611.4,542.5 611.6,629.8 612.1,662.3 612.5,663.5 613.5,664.8 614.6,665.7 615.3,667.5 615.8,796.7 615.9,798.7 616.0,799.4 616.5,800.1 617.1,800.5 617.9,800.7 619.3,800.6 620.0,800.3 620.6,799.6 620.9,798.7 621.4,667.8 621.5,667.6 621.8,668.3 621.9,820.6Z M679.1,538.5V820.6 M686.6,536.7V820.6 M699.8,526.7V820.6 M712.2,555.6V820.6 M720.4,524.6V820.6 M742.8,531.6V820.6 M764.0,534.3V820.6 M771.2,534.1V820.6 M784.9,536.7V820.6 M793.9,554.2V820.6 M799.5,523.7V820.6 M804.6,534.8V820.6 M817.2,535.3V820.6 M831.0,583.8V820.6 M838.7,607.6V820.6 M855.6,537.1V820.6 M874.5,575.5V820.6 M884.9,557.9V820.6 M895.0,524.6V820.6 M902.6,528.3V820.6 M909.8,549.4V820.6 M928.4,535.5V820.6 M938.8,539.0V820.6 M947.1,539.9V820.6 M952.6,531.8V820.6 M968.9,549.8V820.6 M984.8,668.9V820.6 M1009.8,547.1V820.6 M1017.3,536.4V820.6 M1025.4,579.9V820.6 M1032.1,548.7V820.6 M1039.3,546.4V820.6 M1051.5,546.4V820.6 M1062.9,534.4V820.6 M1069.1,536.7V820.6 M1080.9,548.2V820.6 M1088.2,536.0V820.6 M1093.9,566.3V820.6 M1106.3,534.3V820.6 M1116.4,582.2V820.6 M1126.7,667.5V820.6 M1135.9,573.6V820.6 M1143.9,547.8V820.6 M1149.8,547.3V820.6 M1158.2,541.3V820.6 M1178.9,524.7V820.6 M1189.1,603.7V820.6 M1198.6,550.6V820.6 M1205.8,571.4V820.6 M1210.9,578.0V820.6 M1224.0,533.0V820.6 M1237.9,616.4V820.6 M1250.6,538.5V820.6 M1256.4,547.8V820.6 M1263.4,521.4V820.6 M1271.3,532.0V820.6 M1284.2,556.1V820.6 M1289.0,558.4V820.6 M1296.9,553.1V820.6 M1302.7,563.2V820.6 M1307.3,556.1V820.6 M1315.2,563.9V820.6 M1325.5,540.1V820.6 M1334.0,537.6V820.6 M1339.6,538.5V820.6 M1350.9,542.7V820.6 M1366.5,551.7V820.6 M1372.0,565.1V820.6 M1378.9,648.8V820.6 M1401.5,535.0V820.6 M1412.0,594.2V820.6 M667.1,820.6 667.1,816.6 667.7,813.5 668.9,811.3 669.2,810.3 669.3,643.9 671.1,643.9 671.8,643.7 673.1,642.6 674.4,641.9 675.1,641.0 675.3,637.3 675.8,613.9 675.9,613.6 677.1,613.8 678.1,613.5 678.7,612.8 678.9,611.8 679.4,540.0 679.7,539.3 681.8,540.5 682.4,540.6 683.2,540.4 684.8,539.3 686.2,537.7 686.6,546.7 686.9,547.9 687.7,548.5 689.7,549.1 690.6,549.0 691.6,548.4 692.7,548.7 693.7,548.4 694.4,547.6 695.4,545.2 696.1,539.1 697.2,539.3 697.9,539.2 698.7,538.7 699.2,537.9 699.8,527.7 699.9,529.6 700.2,565.2 700.3,565.9 700.7,566.5 702.1,567.9 702.9,568.4 703.3,569.7 703.7,632.4 703.8,633.1 704.6,635.0 705.4,672.0 705.9,810.0 706.1,810.7 706.6,811.4 707.7,812.0 709.7,811.9 710.7,811.2 711.1,810.0 711.7,732.8 711.8,558.4 712.2,557.0 712.3,557.1 712.4,564.4 712.7,617.2 712.8,617.9 713.3,618.7 714.8,619.6 715.7,619.9 716.6,619.7 718.2,618.9 718.7,618.4 719.1,617.6 719.2,616.9 719.6,587.8 720.1,531.3 720.2,526.1 720.3,525.8 720.7,527.2 721.6,528.9 722.2,529.4 722.9,529.7 723.9,529.6 724.7,529.0 726.3,525.7 726.8,525.7 727.2,526.7 727.4,561.7 727.7,562.7 728.3,563.4 730.2,564.3 730.9,564.3 731.8,564.1 732.2,565.2 732.8,602.3 732.9,603.0 733.8,605.2 734.6,606.1 736.1,606.7 737.2,607.4 738.2,607.6 738.8,607.4 739.4,606.9 739.8,606.3 739.9,605.6 741.2,544.7 742.4,542.7 742.8,541.4 743.3,542.3 744.6,543.2 745.2,543.9 746.2,624.1 746.6,625.3 747.9,626.3 748.4,627.0 748.9,634.5 749.6,640.8 749.9,812.5 750.2,813.5 750.8,814.2 751.6,814.5 752.9,814.5 753.7,814.4 754.3,814.0 754.8,813.2 754.9,812.5 755.3,538.9 755.4,538.7 756.3,539.3 757.2,539.4 759.1,538.8 759.9,538.4 760.4,539.1 760.9,539.5 761.6,539.7 762.2,539.7 763.3,539.2 763.8,538.6 764.1,538.0 764.3,539.9 764.8,540.7 765.4,541.1 766.9,541.6 768.1,541.7 769.1,541.1 770.7,538.9 771.3,535.0 771.4,534.9 771.9,537.6 773.4,541.3 773.9,604.5 774.2,605.5 774.7,606.0 776.1,606.8 777.1,607.0 777.6,612.1 777.8,613.2 778.6,614.2 779.2,614.5 779.8,614.5 780.4,614.4 781.9,613.6 783.8,612.3 784.3,611.4 784.8,609.2 785.1,557.4 785.7,558.1 787.7,559.2 788.2,560.7 788.3,561.6 788.8,567.6 789.2,568.2 789.7,568.7 790.9,569.4 791.7,569.4 792.7,569.1 793.3,568.4 793.6,567.5 793.8,561.8 794.1,566.3 794.2,567.0 794.6,567.6 795.3,568.2 796.3,568.3 797.1,568.0 798.6,567.0 798.9,566.4 799.2,564.1 799.6,538.6 799.8,539.5 800.4,540.2 801.3,540.6 802.3,540.4 803.1,539.9 804.2,538.5 804.8,536.3 805.2,669.3 805.4,670.2 806.3,671.2 807.2,672.0 808.2,672.3 808.8,672.2 809.4,671.8 809.9,671.2 810.2,670.5 811.2,660.0 811.6,652.2 811.7,651.5 812.3,651.1 812.7,650.6 812.9,649.6 813.6,558.6 813.7,558.4 814.3,558.9 815.1,559.1 816.2,558.8 816.9,558.0 817.3,556.6 817.9,557.4 818.9,557.9 820.1,557.7 821.2,556.7 821.4,557.2 822.1,574.5 822.3,575.5 822.9,576.3 823.6,589.7 823.8,591.6 824.2,592.8 824.4,619.2 824.6,625.4 824.8,626.3 826.3,627.9 826.9,628.3 827.6,628.4 828.3,628.2 828.9,627.8 829.4,627.1 829.6,626.4 830.1,599.1 830.2,597.5 830.6,596.2 830.8,594.4 830.9,591.3 831.2,623.0 831.3,623.7 832.4,626.0 832.9,628.3 833.3,628.9 833.9,629.4 834.6,629.5 835.3,629.5 836.3,628.9 837.6,627.2 837.7,626.5 838.2,609.5 838.4,608.8 838.6,609.2 838.8,663.4 839.1,664.4 839.9,665.2 840.8,665.4 842.7,665.3 843.6,664.6 843.9,663.4 844.2,618.7 844.9,616.9 845.6,615.8 845.8,613.1 846.1,533.2 846.2,533.0 846.4,533.1 846.7,534.4 847.1,543.9 847.7,544.7 848.6,545.1 849.4,545.1 850.4,544.6 850.9,548.4 851.6,549.4 852.8,550.3 853.6,550.5 854.4,550.3 855.1,549.9 855.6,549.2 855.8,546.9 856.2,539.0 856.8,539.3 858.4,539.8 859.8,539.7 860.2,540.8 860.3,541.9 860.6,561.7 860.9,562.9 861.9,563.8 862.4,564.6 863.1,567.5 863.3,622.5 863.4,623.2 863.8,623.8 865.2,625.1 866.2,625.4 867.2,625.1 867.4,625.6 867.9,635.7 868.3,636.9 869.8,638.1 870.7,638.3 871.3,638.3 871.9,638.0 872.7,637.0 872.9,631.5 873.3,609.5 874.1,607.6 874.2,606.9 874.4,593.6 874.7,635.8 874.8,636.5 876.1,639.0 877.2,640.4 878.2,641.0 878.8,641.1 879.4,641.0 880.3,640.3 881.7,638.6 883.1,638.0 883.7,637.3 884.7,635.3 884.9,632.0 885.1,690.0 885.3,691.0 886.1,691.7 886.8,692.0 888.4,692.0 889.1,691.8 889.7,691.3 890.1,690.7 890.2,690.0 890.7,539.2 891.3,528.4 891.6,528.1 892.8,527.7 893.4,527.3 893.9,526.7 894.4,525.5 894.7,526.0 895.1,691.2 895.4,692.3 896.3,693.0 897.1,693.2 900.6,693.1 901.6,692.3 901.9,691.2 902.2,569.7 902.3,550.0 902.6,540.9 902.7,541.0 902.9,564.2 903.1,564.9 904.3,567.4 905.3,568.1 906.4,568.2 907.1,568.0 908.1,567.3 908.7,566.4 908.9,565.3 909.8,550.9 909.9,551.4 910.3,596.4 910.6,597.4 911.1,598.0 912.4,598.8 913.4,599.0 914.2,598.9 915.9,598.0 916.4,597.4 916.7,596.4 917.1,555.2 917.7,554.1 918.8,551.4 919.7,552.0 920.7,552.1 921.6,551.7 922.2,550.8 923.2,546.9 923.7,540.3 923.9,539.8 924.1,539.5 924.9,539.8 925.6,539.8 926.7,539.4 927.3,538.5 927.9,536.6 928.7,540.6 930.1,544.0 930.8,544.8 931.9,545.1 932.7,544.9 933.3,544.5 934.2,543.1 935.6,543.6 936.2,543.5 936.8,543.1 937.4,542.4 938.6,540.0 938.8,540.7 938.9,542.5 939.3,552.0 939.7,552.6 940.2,553.1 942.4,553.7 943.1,553.7 944.7,553.1 945.3,552.7 945.7,552.0 945.9,550.7 946.3,543.2 946.4,542.2 946.8,541.0 946.9,541.1 947.2,562.3 947.4,567.1 948.2,568.2 948.7,572.3 949.2,573.1 950.2,573.6 951.3,573.5 952.2,572.8 952.6,571.6 952.8,603.4 952.9,604.1 954.8,608.2 955.3,620.1 955.7,621.3 956.9,622.6 957.9,623.1 958.9,623.0 959.9,623.6 960.9,623.6 961.8,623.1 962.3,622.4 962.6,621.1 963.1,593.0 963.8,590.3 964.7,589.0 965.3,582.1 965.6,581.8 967.9,580.5 968.4,579.7 968.6,579.0 969.1,552.7 969.3,554.3 969.7,554.9 970.3,555.4 972.3,556.2 972.8,557.3 973.2,590.8 973.8,593.2 974.2,608.0 974.8,669.2 974.9,669.9 975.3,670.5 976.1,671.1 977.2,671.3 977.3,672.1 978.4,687.8 979.1,706.6 979.4,813.0 979.6,813.7 980.1,814.4 980.7,814.8 981.4,815.0 982.8,815.0 983.6,814.6 984.2,814.0 984.4,813.0 984.7,705.6 984.9,813.5 985.3,814.6 986.2,815.3 986.8,815.5 989.8,815.5 990.6,815.3 991.2,814.9 991.7,814.2 991.8,813.5 992.2,666.6 992.8,666.4 993.4,665.9 993.8,665.3 993.9,664.6 994.3,607.1 994.4,607.1 994.8,609.0 995.1,731.0 995.2,739.5 995.3,740.2 995.8,740.9 996.4,741.3 997.2,741.5 998.2,741.4 998.9,741.0 999.4,740.4 999.7,739.5 1000.1,542.6 1000.4,532.5 1000.7,532.5 1001.1,535.8 1001.4,536.4 1002.1,536.9 1002.7,537.1 1003.4,537.0 1004.3,536.7 1004.8,545.6 1005.1,546.5 1006.3,548.1 1007.1,548.5 1008.2,548.6 1009.2,548.0 1009.6,549.8 1009.9,575.6 1010.2,576.5 1010.9,577.3 1011.6,577.5 1012.9,577.6 1014.2,578.0 1014.8,578.0 1015.8,577.6 1016.4,576.7 1016.7,573.5 1017.1,549.6 1017.3,542.7 1017.6,551.2 1017.9,579.4 1018.2,666.3 1018.3,669.3 1018.6,670.2 1019.1,670.8 1019.8,671.3 1020.8,672.6 1022.3,673.4 1023.2,673.4 1023.9,673.0 1024.4,672.4 1024.7,671.5 1025.1,599.6 1025.4,581.0 1025.8,582.6 1026.1,812.3 1026.3,813.3 1027.1,814.0 1027.8,814.3 1029.8,814.3 1030.6,814.2 1031.2,813.8 1031.7,813.0 1031.8,812.3 1032.2,576.8 1032.4,578.4 1032.6,585.8 1033.1,669.6 1034.1,674.6 1035.1,676.2 1035.9,676.8 1036.9,676.9 1037.8,676.5 1038.4,675.6 1038.6,674.9 1038.9,574.0 1039.2,555.3 1039.3,554.5 1040.1,572.8 1040.7,573.7 1041.8,574.1 1042.8,573.9 1044.1,573.0 1044.6,588.3 1044.7,589.0 1045.8,591.7 1046.4,592.2 1047.4,592.6 1048.2,592.5 1049.9,591.8 1050.6,591.1 1050.8,590.2 1051.4,555.3 1051.6,556.4 1051.9,603.3 1052.4,617.2 1052.7,618.2 1053.4,618.9 1055.3,619.8 1056.1,619.8 1056.7,619.6 1057.2,619.1 1057.6,618.5 1057.8,616.6 1058.3,579.7 1058.9,561.0 1059.6,559.9 1060.6,559.4 1061.2,558.8 1061.4,558.2 1062.3,554.1 1062.8,537.9 1063.2,540.5 1064.1,541.7 1064.9,546.9 1065.3,547.5 1065.9,548.0 1066.6,548.2 1067.3,548.1 1068.3,547.5 1068.8,546.5 1069.3,539.5 1069.9,540.2 1070.8,540.5 1071.7,540.4 1072.4,540.0 1072.9,539.2 1073.6,535.5 1073.7,541.6 1073.9,684.5 1074.1,685.2 1074.4,685.8 1074.9,686.2 1075.6,686.4 1078.8,686.5 1079.6,686.3 1080.4,685.6 1080.8,684.5 1081.1,606.4 1081.4,607.0 1082.7,608.3 1083.3,608.6 1084.1,608.8 1085.9,608.2 1086.6,607.9 1087.1,607.3 1087.3,606.3 1088.2,545.3 1088.9,595.2 1089.2,596.2 1090.4,597.8 1091.3,598.3 1092.3,598.3 1093.2,597.8 1093.7,597.0 1093.9,593.8 1094.1,600.0 1094.2,600.6 1094.9,602.5 1095.4,618.4 1095.6,619.1 1096.4,621.3 1097.7,623.7 1098.7,624.3 1099.3,624.4 1099.9,624.2 1100.8,623.5 1101.2,622.4 1102.2,582.0 1103.9,580.4 1104.3,579.8 1105.4,567.8 1106.2,565.9 1106.4,564.7 1107.8,566.5 1108.3,567.8 1108.8,604.2 1109.3,609.4 1109.7,625.3 1110.2,675.4 1110.3,677.1 1110.4,677.8 1110.9,678.5 1111.6,678.9 1112.3,679.1 1114.2,679.0 1114.9,678.8 1115.7,678.0 1115.9,677.1 1116.1,673.7 1116.3,595.5 1116.4,595.8 1117.1,599.5 1117.4,676.9 1117.7,684.1 1118.1,685.3 1118.9,686.0 1119.9,686.1 1121.1,685.6 1121.2,685.6 1121.4,687.1 1121.6,689.9 1121.8,703.9 1121.9,704.6 1122.3,705.2 1122.9,705.7 1123.6,705.9 1124.6,705.9 1125.7,705.5 1126.2,705.1 1126.6,704.5 1127.1,756.0 1127.2,758.0 1127.4,758.9 1128.2,759.7 1128.9,760.0 1130.8,760.0 1131.6,759.8 1132.2,759.3 1132.6,758.7 1132.7,758.0 1133.2,678.6 1133.9,675.9 1134.7,674.9 1134.9,673.9 1135.4,661.0 1135.9,578.1 1136.2,580.5 1136.6,581.5 1137.9,583.0 1138.7,583.2 1139.4,583.2 1140.2,582.9 1140.8,582.2 1142.6,577.9 1143.6,576.4 1143.8,573.3 1144.1,556.0 1144.6,557.1 1145.4,557.7 1146.4,557.7 1147.4,557.2 1149.2,554.8 1149.7,550.4 1149.9,567.1 1150.2,570.6 1151.4,572.3 1152.6,573.0 1152.9,574.5 1153.2,583.1 1153.6,584.7 1154.1,585.3 1155.3,586.0 1156.3,586.0 1157.2,585.5 1157.7,584.8 1157.8,584.1 1157.9,580.3 1158.4,542.3 1159.3,542.8 1160.9,542.9 1161.8,542.7 1162.4,542.2 1162.8,541.7 1163.6,539.9 1164.1,535.9 1164.6,535.3 1164.7,535.4 1165.1,660.0 1165.4,661.1 1166.4,661.9 1169.2,661.9 1170.1,661.7 1170.8,660.9 1171.1,660.0 1171.3,540.2 1171.7,539.5 1172.7,539.9 1173.7,539.7 1175.1,538.5 1176.2,538.9 1177.3,538.7 1178.1,538.1 1178.7,536.8 1178.9,571.7 1179.3,572.9 1180.6,574.0 1180.9,574.5 1181.4,597.6 1182.1,599.6 1182.6,608.5 1182.9,609.7 1183.4,610.3 1183.9,626.8 1184.3,628.7 1185.7,630.3 1186.4,630.6 1187.2,630.6 1187.9,630.3 1188.4,629.8 1188.8,628.7 1189.2,617.9 1189.7,619.1 1190.2,631.9 1190.8,634.5 1191.2,661.2 1191.4,662.2 1192.6,663.6 1193.3,664.0 1194.1,664.1 1195.1,663.8 1195.7,663.1 1195.9,662.1 1196.1,660.6 1196.8,564.2 1197.3,563.0 1198.1,562.0 1198.3,561.1 1198.8,552.8 1198.9,553.4 1199.2,568.8 1199.3,571.2 1199.8,572.7 1200.2,663.4 1200.3,664.1 1200.7,664.7 1201.3,665.2 1201.9,665.4 1203.3,665.4 1203.9,665.3 1204.6,664.9 1205.1,664.1 1205.3,662.2 1205.7,633.1 1205.9,662.3 1206.1,663.0 1206.8,663.9 1207.9,664.3 1209.1,664.2 1209.7,664.1 1210.3,663.6 1210.7,663.0 1210.8,662.3 1210.9,650.9 1211.1,663.5 1211.2,664.2 1212.6,666.5 1213.4,667.0 1214.4,667.0 1214.9,667.5 1215.9,670.2 1217.1,671.7 1217.9,672.1 1218.9,672.1 1219.7,671.8 1220.2,671.2 1220.6,669.2 1221.1,608.9 1221.3,607.7 1222.1,606.7 1222.3,605.7 1222.9,555.2 1223.6,554.0 1223.8,552.2 1224.1,543.0 1224.2,553.6 1224.3,554.3 1224.8,555.1 1225.4,555.5 1226.2,555.6 1227.1,555.4 1227.4,556.5 1227.8,563.6 1228.8,565.0 1229.4,566.6 1230.1,612.7 1230.3,613.7 1231.8,615.6 1232.6,625.8 1233.2,632.1 1233.4,633.1 1234.2,634.4 1235.1,635.1 1236.1,635.2 1237.1,634.8 1237.7,633.9 1237.9,631.7 1238.2,625.2 1238.6,625.7 1239.7,626.5 1240.8,626.8 1241.6,626.6 1242.2,626.1 1242.6,625.5 1242.7,624.8 1243.2,576.8 1243.3,574.4 1243.9,572.7 1244.3,572.3 1244.7,573.8 1245.1,649.6 1245.4,650.8 1246.7,651.8 1247.6,652.2 1248.6,652.0 1249.2,651.6 1249.7,650.9 1249.9,647.9 1250.7,546.9 1251.1,559.4 1251.3,560.4 1251.9,561.0 1252.8,561.4 1254.3,561.3 1255.1,561.0 1255.7,560.1 1255.9,559.2 1256.4,551.9 1256.7,553.8 1257.1,554.5 1257.7,554.9 1258.3,555.1 1259.2,555.1 1260.1,555.5 1260.7,555.6 1261.6,555.3 1262.2,554.7 1262.6,553.6 1262.7,551.2 1263.3,528.5 1263.7,556.1 1263.9,646.5 1264.2,650.3 1264.8,651.2 1266.2,652.0 1266.9,652.2 1267.7,652.1 1268.3,651.8 1268.8,651.2 1269.8,649.3 1269.9,648.6 1270.4,586.6 1270.6,578.3 1270.9,574.5 1271.2,552.8 1271.3,553.6 1271.6,580.1 1272.1,606.9 1273.2,611.1 1273.8,611.9 1275.1,612.7 1275.8,612.9 1276.4,612.9 1278.3,611.9 1278.8,611.5 1279.2,610.8 1279.8,608.5 1281.2,608.7 1281.9,608.7 1282.7,608.2 1283.3,607.3 1283.4,606.6 1284.4,558.2 1285.1,559.5 1286.1,560.2 1287.1,560.2 1288.6,559.4 1288.7,561.0 1288.9,616.9 1290.3,665.7 1290.6,666.7 1291.2,667.4 1293.2,668.3 1294.1,668.4 1294.9,668.0 1295.6,667.3 1295.8,666.4 1295.9,664.7 1296.9,565.8 1297.1,565.0 1297.6,565.6 1298.3,566.0 1300.6,566.0 1301.7,565.5 1302.6,564.1 1302.9,565.7 1303.7,566.4 1304.8,566.7 1305.9,566.3 1306.6,565.4 1306.8,564.1 1307.1,557.3 1307.2,557.2 1307.4,560.7 1308.2,627.7 1308.4,628.7 1309.8,630.3 1311.1,630.7 1312.2,630.4 1313.6,628.8 1313.9,627.6 1314.4,574.7 1315.1,572.7 1315.2,573.2 1315.4,587.2 1315.7,591.4 1317.2,593.3 1317.8,593.7 1318.4,593.8 1319.9,593.7 1320.8,593.4 1321.4,592.7 1321.8,591.5 1322.3,549.4 1323.1,549.7 1323.9,549.7 1324.7,549.3 1325.2,548.7 1325.6,546.9 1325.9,541.9 1327.2,543.9 1328.7,544.8 1329.4,545.7 1330.1,546.1 1330.7,546.3 1331.4,546.3 1333.2,545.4 1333.7,544.6 1333.8,543.9 1334.3,538.5 1334.9,539.1 1337.3,540.5 1338.4,540.5 1339.3,539.9 1339.9,542.3 1340.3,542.9 1341.2,543.5 1342.3,543.6 1342.9,547.5 1343.7,549.3 1344.3,556.6 1344.8,557.4 1345.6,557.8 1347.6,558.4 1348.3,558.2 1350.1,557.4 1350.6,556.6 1350.7,555.9 1350.9,551.5 1351.1,554.9 1351.4,556.1 1352.1,556.7 1352.8,557.0 1353.6,557.0 1354.3,556.7 1355.1,555.7 1355.7,550.0 1356.1,531.9 1356.8,530.1 1357.9,525.0 1358.4,527.8 1358.8,584.9 1359.1,585.9 1360.1,587.0 1360.6,588.5 1361.1,626.4 1361.2,627.1 1361.7,627.9 1362.3,628.3 1363.1,628.4 1364.3,628.4 1365.1,628.1 1365.7,627.4 1365.9,626.4 1366.4,590.0 1366.7,654.2 1366.8,654.9 1367.2,655.5 1367.8,656.0 1368.4,656.2 1369.8,656.2 1370.4,656.0 1371.1,655.6 1371.6,654.9 1371.7,654.2 1371.9,579.4 1372.4,655.5 1372.6,656.2 1373.4,658.0 1374.1,661.5 1374.7,662.4 1375.6,662.9 1376.4,662.9 1377.3,662.5 1378.3,661.1 1378.6,660.5 1379.2,650.6 1379.8,653.3 1380.2,654.0 1380.8,654.4 1381.8,654.6 1382.7,654.4 1383.4,653.6 1383.7,652.6 1384.2,629.8 1384.7,581.5 1385.2,549.9 1385.6,549.3 1386.6,548.8 1387.1,548.3 1388.3,545.1 1388.9,547.4 1389.7,548.3 1390.4,548.6 1391.8,548.7 1392.4,548.6 1393.1,548.3 1393.8,547.4 1394.3,544.7 1395.9,544.1 1397.2,543.1 1398.2,541.9 1399.4,542.2 1400.6,541.8 1401.2,540.9 1401.6,538.5 1402.9,609.2 1403.2,610.1 1404.1,611.3 1404.7,612.8 1405.2,636.5 1405.8,648.2 1406.1,650.3 1406.6,651.0 1407.9,651.9 1408.6,652.1 1409.4,652.2 1410.2,651.8 1410.7,651.4 1411.6,649.2 1411.7,648.5 1412.1,620.9 1412.2,625.4 1412.3,626.1 1413.2,627.9 1414.1,632.7 1414.6,633.5 1415.3,634.0 1416.1,634.2 1417.1,634.0 1417.2,634.1 1417.7,635.9 1418.3,641.1 1419.2,642.7 1419.8,646.4 1420.1,647.1 1421.7,648.8 1423.7,649.8 1424.4,649.9 1425.1,649.7 1425.7,649.2 1426.1,648.6 1426.3,647.6 1427.1,624.2 1427.4,605.4 1428.2,543.7 1428.4,543.2 1428.7,543.1 1429.2,544.5 1430.2,674.5 1431.9,718.2 1432.1,801.9 1432.8,815.0 1432.8,820.6Z" fill="#1f77b4" stroke="#1f77b4" stroke-width="4.0" stroke-linejoin="round" stroke-linecap="round"/>
<line x1="191.5" y1="574.4" x2="191.5" y2="793.8" stroke="#fff" stroke-opacity="0.95" stroke-width="0.8"/>
<line x1="176.59" y1="773.2" x2="176.59" y2="801.0" stroke="#fff" stroke-opacity="0.4" stroke-width="0.5"/>
<line x1="587.61" y1="739.7" x2="587.61" y2="810.2" stroke="#fff" stroke-opacity="0.4" stroke-width="0.5"/>
<line x1="684.36" y1="540.9" x2="684.36" y2="607.9" stroke="#fff" stroke-opacity="0.45" stroke-width="0.5"/>
<line x1="931.08" y1="540.9" x2="931.08" y2="627.1" stroke="#fff" stroke-opacity="0.45" stroke-width="0.5"/>
<line x1="950.96" y1="568.6" x2="950.96" y2="597.5" stroke="#fff" stroke-opacity="0.4" stroke-width="0.5"/>
<line x1="1042.28" y1="559.4" x2="1042.28" y2="625.3" stroke="#fff" stroke-opacity="0.45" stroke-width="0.5"/>
<line x1="1146.31" y1="557.1" x2="1146.31" y2="614.9" stroke="#fff" stroke-opacity="0.45" stroke-width="0.5"/>
<line x1="1160.52" y1="542.1" x2="1160.52" y2="558.2" stroke="#fff" stroke-opacity="0.4" stroke-width="0.5"/>
<line x1="1123.42" y1="693.2" x2="1123.42" y2="751.0" stroke="#fff" stroke-opacity="0.4" stroke-width="0.5"/>
<line x1="997.43" y1="739.5" x2="997.43" y2="764.0" stroke="#fff" stroke-opacity="0.3" stroke-width="0.4"/>
<line x1="1299.35" y1="565.2" x2="1299.35" y2="678.4" stroke="#fff" stroke-opacity="0.45" stroke-width="0.5"/>
<line x1="1319.35" y1="592.9" x2="1319.35" y2="613.7" stroke="#fff" stroke-opacity="0.4" stroke-width="0.5"/>
<line x1="1336.8" y1="539.7" x2="1336.8" y2="612.6" stroke="#fff" stroke-opacity="0.5" stroke-width="0.5"/>
<line x1="1391.59" y1="547.8" x2="1391.59" y2="606.8" stroke="#fff" stroke-opacity="0.45" stroke-width="0.5"/>
<line x1="1124.8" y1="704.4" x2="1128.5" y2="704.4" stroke="#fff" stroke-width="2.6"/>
</g>
<rect x="109" y="505" width="1387" height="330" fill="none" stroke="#000" stroke-width="2.133"/>
<line x1="109" y1="820.60" x2="100.00" y2="820.60" stroke="#000" stroke-width="2.133"/>
<text x="89.4" y="831.60" font-size="26.667" text-anchor="end" >0</text>
<line x1="109" y1="752.38" x2="100.00" y2="752.38" stroke="#000" stroke-width="2.133"/>
<text x="89.4" y="763.38" font-size="26.667" text-anchor="end" >10</text>
<line x1="109" y1="684.15" x2="100.00" y2="684.15" stroke="#000" stroke-width="2.133"/>
<text x="89.4" y="695.15" font-size="26.667" text-anchor="end" >20</text>
<line x1="109" y1="615.93" x2="100.00" y2="615.93" stroke="#000" stroke-width="2.133"/>
<text x="89.4" y="626.93" font-size="26.667" text-anchor="end" >30</text>
<line x1="109" y1="547.70" x2="100.00" y2="547.70" stroke="#000" stroke-width="2.133"/>
<text x="89.4" y="558.70" font-size="26.667" text-anchor="end" >40</text>
<line x1="172" y1="835" x2="172" y2="844.00" stroke="#000" stroke-width="2.133"/>
<text x="172" y="874.8" font-size="26.667" text-anchor="middle" >09</text>
<line x1="352" y1="835" x2="352" y2="844.00" stroke="#000" stroke-width="2.133"/>
<text x="352" y="874.8" font-size="26.667" text-anchor="middle" >13</text>
<line x1="532" y1="835" x2="532" y2="844.00" stroke="#000" stroke-width="2.133"/>
<text x="532" y="874.8" font-size="26.667" text-anchor="middle" >17</text>
<line x1="712" y1="835" x2="712" y2="844.00" stroke="#000" stroke-width="2.133"/>
<text x="712" y="874.8" font-size="26.667" text-anchor="middle" >21</text>
<line x1="892" y1="835" x2="892" y2="844.00" stroke="#000" stroke-width="2.133"/>
<text x="892" y="874.8" font-size="26.667" text-anchor="middle" >25</text>
<line x1="1072" y1="835" x2="1072" y2="844.00" stroke="#000" stroke-width="2.133"/>
<text x="1072" y="874.8" font-size="26.667" text-anchor="middle" >29</text>
<line x1="1162" y1="835" x2="1162" y2="844.00" stroke="#000" stroke-width="2.133"/>
<text x="1162" y="874.8" font-size="26.667" text-anchor="middle" >May</text>
<line x1="1342" y1="835" x2="1342" y2="844.00" stroke="#000" stroke-width="2.133"/>
<text x="1342" y="874.8" font-size="26.667" text-anchor="middle" >05</text>
<text x="802.5" y="490.0" font-size="32" text-anchor="middle" >kage17 body centroid</text>
<text x="802.5" y="911.6" font-size="26.667" text-anchor="middle" >time</text>
<text transform="translate(38.2,672.3) rotate(-90)" font-size="26.667" text-anchor="middle">speed (cm/sec)</text>
<text x="1496" y="908.9" font-size="26.667" text-anchor="end" >2024-May</text>
</svg></body></html>
